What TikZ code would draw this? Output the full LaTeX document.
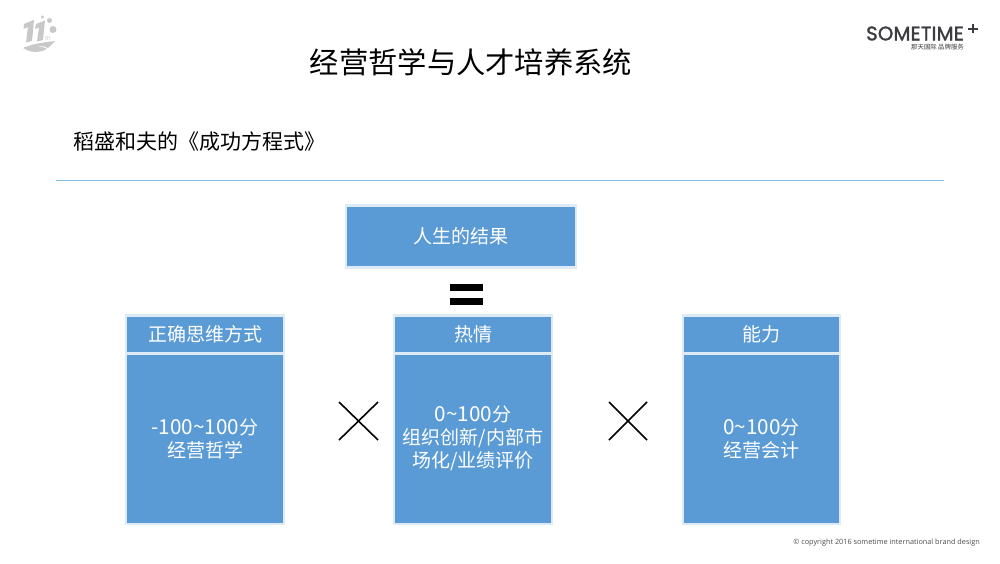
\documentclass[tikz,border=0pt]{standalone}
\usepackage{fontspec}
\setmainfont{Open Sans}
\newfontfamily\cjk{Noto Sans CJK SC}
\newfontfamily\logofont[FakeBold=1.6,LetterSpace=1]{Poppins}
\newcommand{\lat}[1]{{\fontsize{20.7}{23}\selectfont #1}}
\definecolor{boxblue}{HTML}{5B9BD5}
\definecolor{boxedge}{HTML}{DEEAF6}
\definecolor{rulecol}{HTML}{7DBDE8}
\definecolor{logogray}{HTML}{C8C8C8}
\definecolor{logodark}{HTML}{3C3C40}
\tikzset{
  bluebox/.style={fill=boxblue,draw=boxedge,line width=2.5pt,minimum width=#1,inner sep=0pt,text=white,font=\cjk\fontsize{19}{23}\selectfont,align=center,anchor=north west},
  cross/.style={line width=1.6pt,black},
}
\begin{document}
\begin{tikzpicture}[x=1pt,y=-1pt]
\useasboundingbox (0,0) rectangle (1000,563);
\fill[white] (0,0) rectangle (1000,563);
% title
\node (title) at (471,62) {\cjk\fontsize{29.3}{34}\selectfont 经营哲学与人才培养系统};
\node[anchor=west,inner sep=0pt] (sub) at (73,142) {\cjk\fontsize{21}{25}\selectfont 稻盛和夫的《成功方程式》};
\draw[rulecol,line width=1pt] (56,180.5) -- (944,180.5);
% top box
\node[bluebox=230pt,minimum height=62pt] (res) at (344.8,204) {人生的结果};
% equals
\fill[black] (450,284) rectangle (483,290.5);
\fill[black] (450,298) rectangle (483,304.5);
% column 1
\node[bluebox=158pt,minimum height=38pt] (h1) at (124.8,314) {正确思维方式};
\node[bluebox=158pt,minimum height=170pt] (b1) at (124.8,352.5) {\lat{-100\char"7E 100}分\\经营哲学};
% column 2
\node[bluebox=158pt,minimum height=38pt] (h2) at (392.8,314) {热情};
\node[bluebox=158pt,minimum height=170pt] (b2) at (392.8,352.5) {\lat{0\char"7E 100}分\\组织创新/内部市\\场化/业绩评价};
% column 3
\node[bluebox=157pt,minimum height=38pt] (h3) at (681.8,314) {能力};
\node[bluebox=157pt,minimum height=170pt] (b3) at (681.8,352.5) {\lat{0\char"7E 100}分\\经营会计};
% multiplication signs
\draw[cross] (339,402) -- (378,440);
\draw[cross] (378,402) -- (339,440);
\draw[cross] (609,402) -- (647,440);
\draw[cross] (647,402) -- (609,440);
% footer
\node[anchor=east,inner sep=0pt,text=black!70] (foot) at (980,543) {\fontsize{7.3}{9}\selectfont © copyright 2016 sometime international brand design};
% left logo
\fill[logogray] (24,24) -- (33.5,20) -- (34,20) -- (32,41) -- (26,42.5) -- (28,27) -- (23.5,29) -- cycle;
\fill[logogray] (36,24) -- (45,20.5) -- (43,40) -- (37,41.5) -- (39,27.5) -- (35,29) -- cycle;
\fill[logogray] (23,49) .. controls (30,44) and (40,43) .. (55,41) -- (48,48) .. controls (40,44) and (30,46) .. (23,49) -- cycle;
\fill[logogray] (23.5,47.5) .. controls (30,45.5) and (40,45) .. (47,49) .. controls (40,53) and (28,53) .. (23.5,47.5) -- cycle;
\fill[logogray] (53,29.5) circle (3.5);
\fill[logogray] (49.5,20.5) circle (2.5);
\fill[logogray] (42.5,17) circle (1.6);
\node[inner sep=0pt,text=logogray] (th) at (48,38) {\fontsize{6}{7}\selectfont th};
% right logo
\node[anchor=west,inner sep=0pt,text=logodark] (logo) at (866,33.5) {\logofont\fontsize{19.6}{20}\selectfont SOMETIME};
\fill[logodark] (968,27.5) rectangle (978,29.5);
\fill[logodark] (972,24) rectangle (974,33);
\node[anchor=west,inner sep=0pt,text=logodark] (logosub) at (911,47.5) {\cjk\fontsize{6.4}{7}\selectfont 那天国际 品牌服务};
\end{tikzpicture}
\end{document}
